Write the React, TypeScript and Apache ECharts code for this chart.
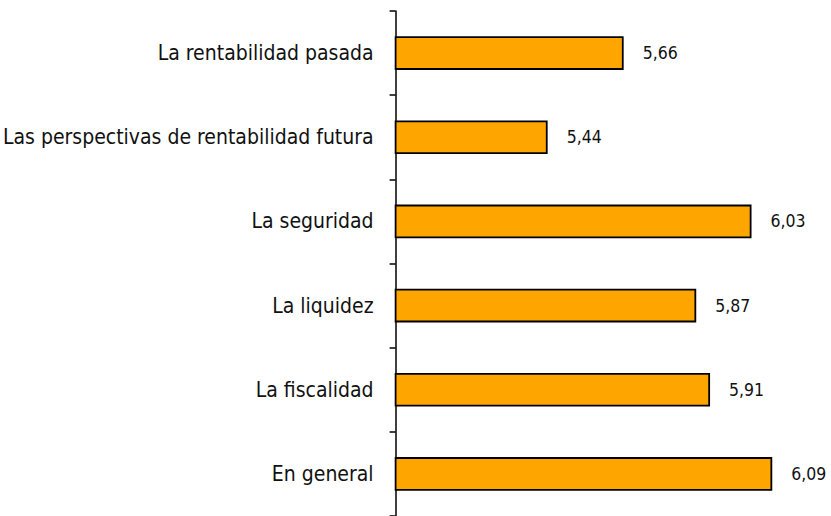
import React, { useEffect, useRef } from "react";
import * as echarts from "echarts";

const categories = [
  "En general",
  "La fiscalidad",
  "La liquidez",
  "La seguridad",
  "Las perspectivas de rentabilidad futura",
  "La rentabilidad pasada",
];
const values = [6.09, 5.91, 5.87, 6.03, 5.44, 5.66];

const FONT = "'DejaVu Sans Condensed', 'DejaVu Sans', sans-serif";

export default function App() {
  const ref = useRef<HTMLDivElement>(null);
  useEffect(() => {
    document.body.style.margin = "0";
    const chart = echarts.init(ref.current!, null, { renderer: "svg" });
    chart.setOption({
      animation: false,
      grid: { left: 393, right: 0, top: 11, bottom: -7, containLabel: false },
      xAxis: {
        type: "value",
        min: 5,
        max: 6.26,
        show: false,
      },
      yAxis: {
        type: "category",
        data: categories,
        axisLine: { show: true, lineStyle: { color: "#000", width: 1.5 } },
        axisTick: { show: true, length: 6, lineStyle: { color: "#000", width: 1.5 } },
        axisLabel: {
          margin: 22,
          color: "#111",
          fontFamily: FONT,
          fontSize: 21,
        },
      },
      series: [
        {
          type: "bar",
          data: values,
          barCategoryGap: "60%",
          itemStyle: { color: "#FFA500", borderColor: "#000", borderWidth: 1.8 },
          label: {
            show: true,
            position: "right",
            distance: 19,
            color: "#111",
            fontFamily: FONT,
            fontSize: 17.5,
            formatter: (p: any) => p.value.toFixed(2).replace(".", ","),
          },
        },
      ],
    });
    return () => chart.dispose();
  }, []);
  return <div ref={ref} style={{ position: "absolute", left: 0, top: 0, width: 831, height: 516 }} />;
}
